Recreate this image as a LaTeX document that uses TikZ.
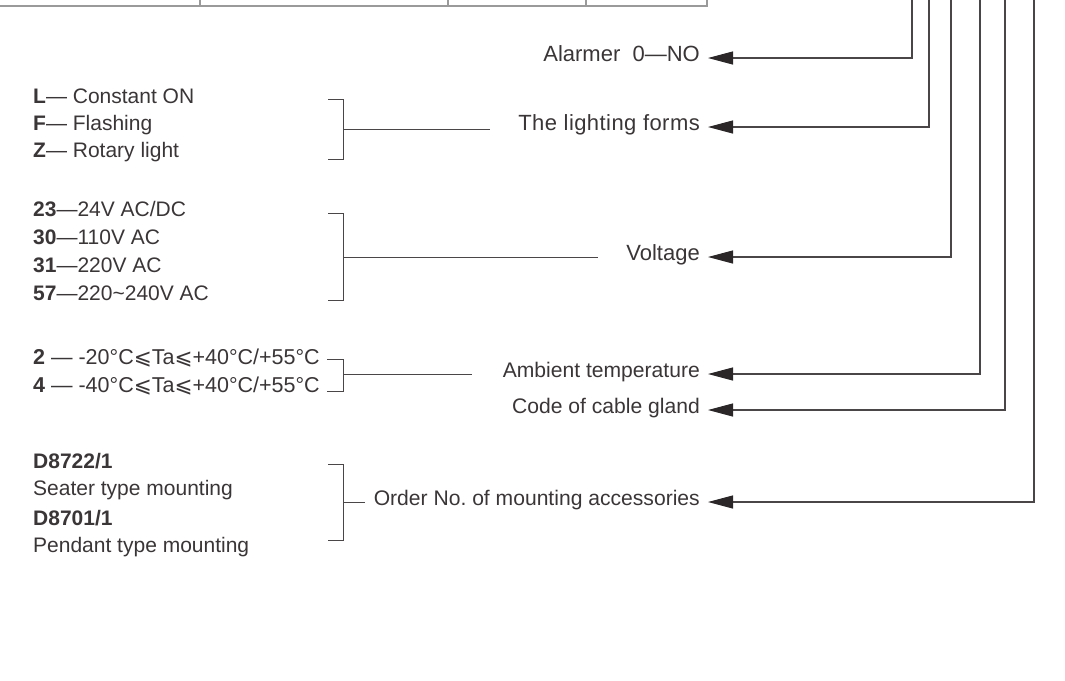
\documentclass[tikz,border=0pt]{standalone}
\usepackage{fontspec}
\setmainfont{Liberation Sans}
\newfontfamily\symfont{DejaVu Sans}
\newfontfamily\spacedfont[LetterSpace=2.0]{Liberation Sans}
\usetikzlibrary{arrows.meta}
\definecolor{txt}{HTML}{3A3536}
\definecolor{ln}{HTML}{4A4546}
\definecolor{tip}{HTML}{2B2627}
\definecolor{tblc}{HTML}{9A9A9A}
\frenchspacing
\tikzset{
 rlab/.style={anchor=east, inner xsep=8pt, inner ysep=0pt, text height=0.716em, text depth=0pt, font=\fontsize{22}{26}\selectfont, text=txt},
 rlabn/.style={rlab, font=\fontsize{21.1}{26}\selectfont},
 llab/.style={anchor=west, inner xsep=0pt, inner ysep=0pt, text height=0.716em, text depth=0pt, font=\fontsize{21}{24}\selectfont, text=txt},
 conn/.style={draw=ln, line width=1.1pt, -{Triangle[length=25pt,width=13pt,color=tip]}},
 brk/.style={draw=ln, line width=1.0pt},
 tblline/.style={draw=tblc, line width=1.5pt}
}
\newcommand{\leqs}{{\symfont ⩽}}
\begin{document}
\begin{tikzpicture}[x=1pt,y=-1pt]
\useasboundingbox (0,0) rectangle (1065,680);
% table at top
\coordinate (tl) at (0,6);
\coordinate (tr) at (707,6);
\draw[tblline] (tl) -- (tr) -- (707,0);
\foreach \xx in {200,448,586} \draw[tblline] (\xx,0) -- (\xx,6);

% right labels
\node[rlab] (alarm) at (708,58) {Alarmer\ \ 0—NO};
\node[rlab, font=\spacedfont\fontsize{22}{26}\selectfont] (light) at (708,127) {The lighting forms};
\node[rlab] (volt) at (708,257) {Voltage};
\node[rlabn] (amb) at (708,374) {Ambient temperature};
\node[rlabn] (cab) at (708,410) {Code of cable gland};
\node[rlabn] (ord) at (708,502) {Order No. of mounting accessories};

\coordinate (t1) at (912,0);
\coordinate (t2) at (929,0);
\coordinate (t3) at (951,0);
\coordinate (t4) at (980,0);
\coordinate (t5) at (1005,0);
\coordinate (t6) at (1034,0);
\draw[conn] (t1) |- (alarm.east);
\draw[conn] (t2) |- (light.east);
\draw[conn] (t3) |- (volt.east);
\draw[conn] (t4) |- (amb.east);
\draw[conn] (t5) |- (cab.east);
\draw[conn] (t6) |- (ord.east);

% lighting forms
\node[llab] (l1) at (33,100) {\textbf{L}— Constant ON};
\node[llab] (l2) at (33,127) {\textbf{F}— Flashing};
\node[llab] (l3) at (33,154) {\textbf{Z}— Rotary light};
\draw[brk] (328,99) -- (343,99) -- (343,159) -- (328,159);
\coordinate (bl) at (343,129);
\coordinate (ble) at (490,129);
\draw[brk] (bl) -- (ble);

% voltage
\node[llab] (v1) at (33,213) {\textbf{23}—24V AC/DC};
\node[llab] (v2) at (33,241) {\textbf{30}—110V AC};
\node[llab] (v3) at (33,269) {\textbf{31}—220V AC};
\node[llab] (v4) at (33,297) {\textbf{57}—220\textasciitilde 240V AC};
\draw[brk] (328,213) -- (343,213) -- (343,300) -- (328,300);
\coordinate (bv) at (343,257);
\coordinate (bve) at (598,257);
\draw[brk] (bv) -- (bve);

% temperature
\node[llab, font=\fontsize{21.5}{24}\selectfont] (a1) at (33,361) {\textbf{2} — -20°C\leqs Ta\leqs +40°C/+55°C};
\node[llab, font=\fontsize{21.5}{24}\selectfont] (a2) at (33,389) {\textbf{4} — -40°C\leqs Ta\leqs +40°C/+55°C};
\draw[brk] (327,359) -- (343,359) -- (343,391) -- (327,391);
\coordinate (ba) at (343,374);
\coordinate (bae) at (472,374);
\draw[brk] (ba) -- (bae);

% mounting
\node[llab] (m1) at (33,465) {\textbf{D8722/1}};
\node[llab] (m2) at (33,492) {Seater type mounting};
\node[llab] (m3) at (33,522) {\textbf{D8701/1}};
\node[llab] (m4) at (33,549) {Pendant type mounting};
\draw[brk] (328,464) -- (343,464) -- (343,540) -- (328,540);
\coordinate (bm) at (343,502);
\coordinate (bme) at (365,502);
\draw[brk] (bm) -- (bme);
\end{tikzpicture}
\end{document}
